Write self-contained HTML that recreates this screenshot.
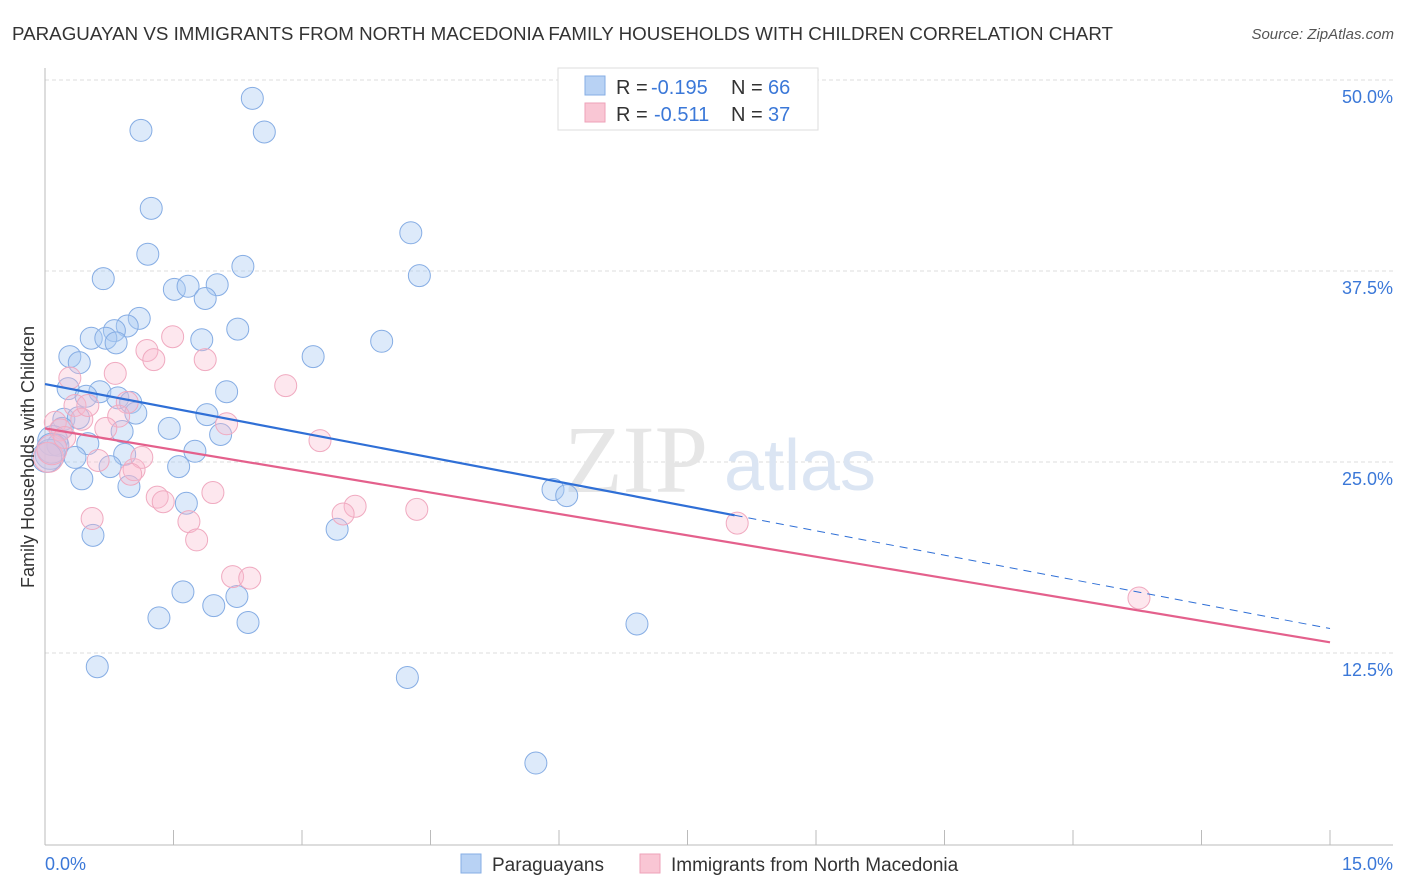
<!DOCTYPE html>
<html><head><meta charset="utf-8"><style>
body{margin:0;background:#fff;font-family:"Liberation Sans",sans-serif}
</style></head><body>
<svg width="1406" height="892" viewBox="0 0 1406 892" style="display:block">
<text x="12" y="40" font-size="18" fill="#333" textLength="1101" lengthAdjust="spacingAndGlyphs">PARAGUAYAN VS IMMIGRANTS FROM NORTH MACEDONIA FAMILY HOUSEHOLDS WITH CHILDREN CORRELATION CHART</text>
<text x="1394" y="39" font-size="15" fill="#555" font-style="italic" text-anchor="end">Source: ZipAtlas.com</text>
<g id="grid"></g>
<g>
<text x="636" y="492" font-size="96" font-family="Liberation Serif,serif" fill="#e6e6e6" text-anchor="middle">ZIP</text>
<text x="800" y="490" font-size="72" fill="#dbe5f3" text-anchor="middle">atlas</text>
</g>
<g id="axes"></g>
<g id="pts"></g>
<g id="trends"></g>
<text x="34" y="457" font-size="18" fill="#333" text-anchor="middle" transform="rotate(-90 34 457)">Family Households with Children</text>
<g>
<rect x="558" y="68" width="260" height="62" fill="#fff" stroke="#ddd"/>
<rect x="585" y="76" width="20" height="19" fill="#b8d2f4" stroke="#86aee4"/>
<text y="94" font-size="20" fill="#333"><tspan x="616">R =</tspan><tspan x="651" fill="#3b78d8">-0.195</tspan><tspan x="731">N =</tspan><tspan x="768" fill="#3b78d8">66</tspan></text>
<rect x="585" y="103" width="20" height="19" fill="#f9c6d4" stroke="#eea2b8"/>
<text y="121" font-size="20" fill="#333"><tspan x="616">R =</tspan><tspan x="654" fill="#3b78d8">-0.511</tspan><tspan x="731">N =</tspan><tspan x="768" fill="#3b78d8">37</tspan></text>
</g>
<g>
<rect x="461" y="854" width="20" height="19" fill="#b8d2f4" stroke="#86aee4"/>
<text x="492" y="871" font-size="19" fill="#333">Paraguayans</text>
<rect x="640" y="854" width="20" height="19" fill="#f9c6d4" stroke="#eea2b8"/>
<text x="671" y="871" font-size="19" fill="#333">Immigrants from North Macedonia</text>
</g>
</svg>
<script>
const blueX=[2.42,1.12,2.56,1.24,1.20,4.27,0.68,2.31,4.37,1.51,1.67,2.01,1.87,1.10,0.96,0.81,0.54,0.71,0.83,1.83,2.25,3.93,3.13,0.29,0.40,0.27,0.64,0.48,2.12,0.85,1.00,1.06,1.89,0.22,0.39,0.20,0.90,1.45,2.05,0.09,0.15,0.50,1.75,0.93,0.35,1.56,0.76,0.43,0.98,5.93,6.09,1.65,3.41,0.56,1.61,1.97,2.24,1.33,2.37,6.91,0.61,4.23,5.73,0.06,0.08,0.02];
const blueY=[48.8,46.7,46.6,41.6,38.6,40.0,37.0,37.8,37.2,36.3,36.5,36.6,35.7,34.4,33.9,33.6,33.1,33.1,32.8,33.0,33.7,32.9,31.9,31.9,31.5,29.8,29.6,29.3,29.6,29.2,28.9,28.2,28.1,27.8,27.9,27.2,27.0,27.2,26.8,26.4,26.1,26.2,25.7,25.5,25.3,24.7,24.7,23.9,23.4,23.2,22.8,22.3,20.6,20.2,16.5,15.6,16.2,14.8,14.5,14.4,11.6,10.9,5.3,25.5,25.9,25.3];
const pinkX=[0.12,0.18,0.29,0.35,0.43,0.82,0.96,0.86,1.19,1.27,1.49,1.87,2.12,0.62,0.71,1.04,1.13,1.00,1.31,1.38,1.96,1.68,1.77,0.55,2.81,3.21,3.62,3.48,4.34,2.19,2.39,8.08,12.77,0.04,0.08,0.23,0.50];
const pinkY=[27.6,27.1,30.5,28.7,27.8,30.8,28.9,28.0,32.3,31.7,33.2,31.7,27.5,25.1,27.2,24.5,25.3,24.2,22.7,22.4,23.0,21.1,19.9,21.3,30.0,26.4,22.1,21.6,21.9,17.5,17.4,21.0,16.1,25.3,25.8,26.6,28.7];
const blueTrend=[30.1,14.1];const blueSolidEnd=8.05;
const pinkTrend=[27.2,13.2];
const yTicks=[12.5,25,37.5,50];const yTickLabels=["12.5%","25.0%","37.5%","50.0%"];
const xTicks=[0,1.5,3,4.5,6,7.5,9,10.5,12,13.5,15];
const NS="http://www.w3.org/2000/svg";
const sx=v=>45+v*85.667, sy=v=>844-v*15.28;
function mk(t,a,p){const e=document.createElementNS(NS,t);for(const k in a)e.setAttribute(k,a[k]);p.appendChild(e);return e;}
const grid=document.getElementById('grid'),axes=document.getElementById('axes'),pts=document.getElementById('pts'),tr=document.getElementById('trends');
yTicks.forEach((v,i)=>{
 const l=mk('line',{x1:45,x2:1393,y1:sy(v),y2:sy(v),stroke:'#ddd','stroke-dasharray':'4,3'},grid);
 
 
 const t=mk('text',{x:1393,y:sy(v)+23,'font-size':18,fill:'#3b78d8','text-anchor':'end'},axes);
 t.textContent=yTickLabels[i];
 
 
});
const ya=mk('line',{x1:45,x2:45,y1:68,y2:845,stroke:'#bbb'},axes);


const xa=mk('line',{x1:45,x2:1393,y1:845,y2:845,stroke:'#bbb'},axes);


xTicks.forEach(v=>{const t=mk('line',{x1:sx(v),x2:sx(v),y1:830,y2:845,stroke:'#bbb'},axes);
 
 });
const x0=mk('text',{x:45,y:870,'font-size':18,fill:'#3b78d8'},axes);x0.textContent='0.0%';


const x1=mk('text',{x:1393,y:870,'font-size':18,fill:'#3b78d8','text-anchor':'end'},axes);x1.textContent='15.0%';


function dots(X,Y,fill,stroke,name){X.forEach((x,i)=>{
 const c=mk('circle',{cx:sx(x),cy:sy(Y[i]),r:x<0.1?15:11,fill:fill,stroke:stroke,'stroke-width':1},pts);
 
 });}
dots(blueX,blueY,'rgba(170,202,242,0.4)','#86ade4','paraguayan-point');
dots(pinkX,pinkY,'rgba(248,186,206,0.35)','#f0aac0','north-macedonia-point');
const byAt=x=>blueTrend[0]+(blueTrend[1]-blueTrend[0])*x/15;
const b1=mk('line',{x1:sx(0),y1:sy(blueTrend[0]),x2:sx(blueSolidEnd),y2:sy(byAt(blueSolidEnd)),stroke:'#2f6fd6','stroke-width':2.2},tr);


const b2=mk('line',{x1:sx(blueSolidEnd),y1:sy(byAt(blueSolidEnd)),x2:sx(15),y2:sy(blueTrend[1]),stroke:'#2f6fd6','stroke-width':1,'stroke-dasharray':'8,6'},tr);


const p1=mk('line',{x1:sx(0),y1:sy(pinkTrend[0]),x2:sx(15),y2:sy(pinkTrend[1]),stroke:'#e4608c','stroke-width':2.2},tr);


</script>
</body></html>
